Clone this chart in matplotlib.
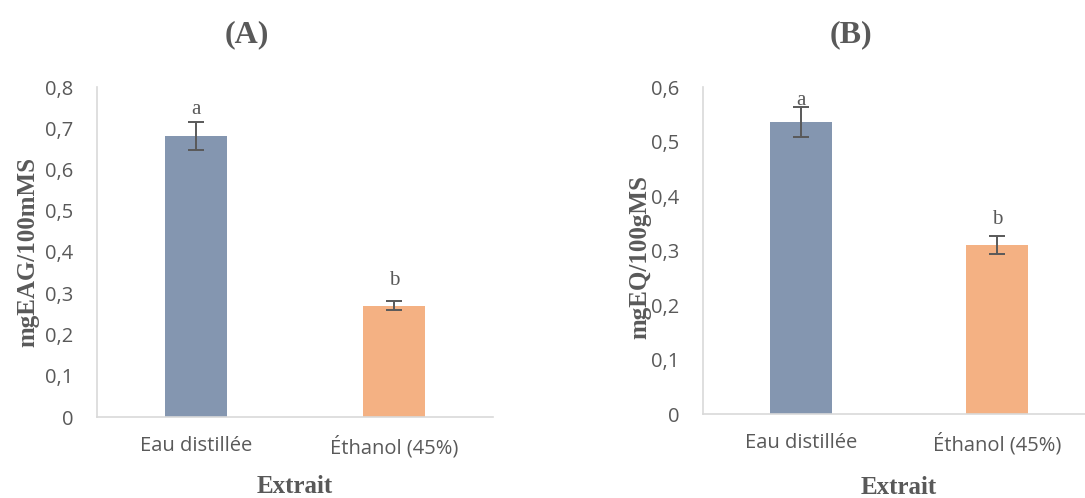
import matplotlib.pyplot as plt

# Extraction results, two solvents
categories = ['Eau distillée', 'Éthanol (45%)']

# (A) polyphenols, mgEAG/100mMS
phenol_mean = [0.681, 0.270]
phenol_err = [0.034, 0.011]
phenol_letters = ['a', 'b']
phenol_letter_y = [0.745, 0.330]
phenol_ticks = [0, 0.1, 0.2, 0.3, 0.4, 0.5, 0.6, 0.7, 0.8]

# (B) flavonoids, mgEQ/100gMS
flavo_mean = [0.536, 0.310]
flavo_err = [0.027, 0.016]
flavo_letters = ['a', 'b']
flavo_letter_y = [0.576, 0.356]
flavo_ticks = [0, 0.1, 0.2, 0.3, 0.4, 0.5, 0.6]

bar_colors = ['#8496B0', '#F4B183']
text_gray = '#595959'
axis_gray = '#D9D9D9'
serif = ['Liberation Serif', 'DejaVu Serif']
sans = ['Open Sans', 'DejaVu Sans']

W, H = 1085, 498
fig = plt.figure(figsize=(W / 100, H / 100), dpi=100)


def px_axes(left, top, right, bottom):
    return fig.add_axes([left / W, 1 - bottom / H, (right - left) / W, (bottom - top) / H])


def comma(v):
    return ('%g' % v).replace('.', ',')


def draw_panel(ax, means, errs, letters, letter_y, ticks, ylabel, ylab_pos, xlab_y, bw):
    x = range(len(categories))
    ax.bar(x, means, width=bw, color=bar_colors, zorder=2)
    ax.errorbar(x, means, yerr=errs, fmt='none', ecolor=text_gray,
                elinewidth=1.4, capsize=5.5, capthick=1.4, zorder=3)
    for xi, lab, ly in zip(x, letters, letter_y):
        ax.text(xi, ly, lab, ha='center', va='center', fontsize=15,
                family=serif, color=text_gray)
    ax.set_xlim(-0.5, len(categories) - 0.5)
    ax.set_ylim(0, ticks[-1])
    ax.set_yticks(ticks)
    ax.set_yticklabels([comma(t) for t in ticks])
    ax.set_xticks(list(x))
    ax.set_xticklabels(categories)
    for lab in ax.get_xticklabels() + ax.get_yticklabels():
        lab.set_family(sans)
        lab.set_fontsize(14.5)
        lab.set_color(text_gray)
    ax.tick_params(axis='y', length=0, pad=17)
    ax.tick_params(axis='x', length=0, pad=14)
    for side in ['top', 'right']:
        ax.spines[side].set_visible(False)
    for side in ['left', 'bottom']:
        ax.spines[side].set_color(axis_gray)
        ax.spines[side].set_linewidth(1.2)
    ax.set_ylabel(ylabel, family=serif, fontweight='bold', fontsize=18,
                  color=text_gray, va='center')
    ax.yaxis.set_label_coords(*ylab_pos)
    ax.set_xlabel('Extrait', family=serif, fontweight='bold', fontsize=18,
                  color=text_gray, va='center')
    ax.xaxis.set_label_coords(0.5, xlab_y)


ax_a = px_axes(97, 87, 493, 417)
draw_panel(ax_a, phenol_mean, phenol_err, phenol_letters, phenol_letter_y,
           phenol_ticks, 'mgEAG/100mMS', (-0.174, 0.5), -0.212, 0.318)

ax_b = px_axes(703, 87, 1095, 414)
draw_panel(ax_b, flavo_mean, flavo_err, flavo_letters, flavo_letter_y,
           flavo_ticks, 'mgEQ/100gMS', (-0.161, 0.48), -0.226, 0.316)

fig.text(247 / W, 1 - 35 / H, '(A)', ha='center', va='center', family=serif,
         fontweight='bold', fontsize=23, color=text_gray)
fig.text(851 / W, 1 - 35 / H, '(B)', ha='center', va='center', family=serif,
         fontweight='bold', fontsize=23, color=text_gray)

fig.savefig('out.png', dpi=100)
